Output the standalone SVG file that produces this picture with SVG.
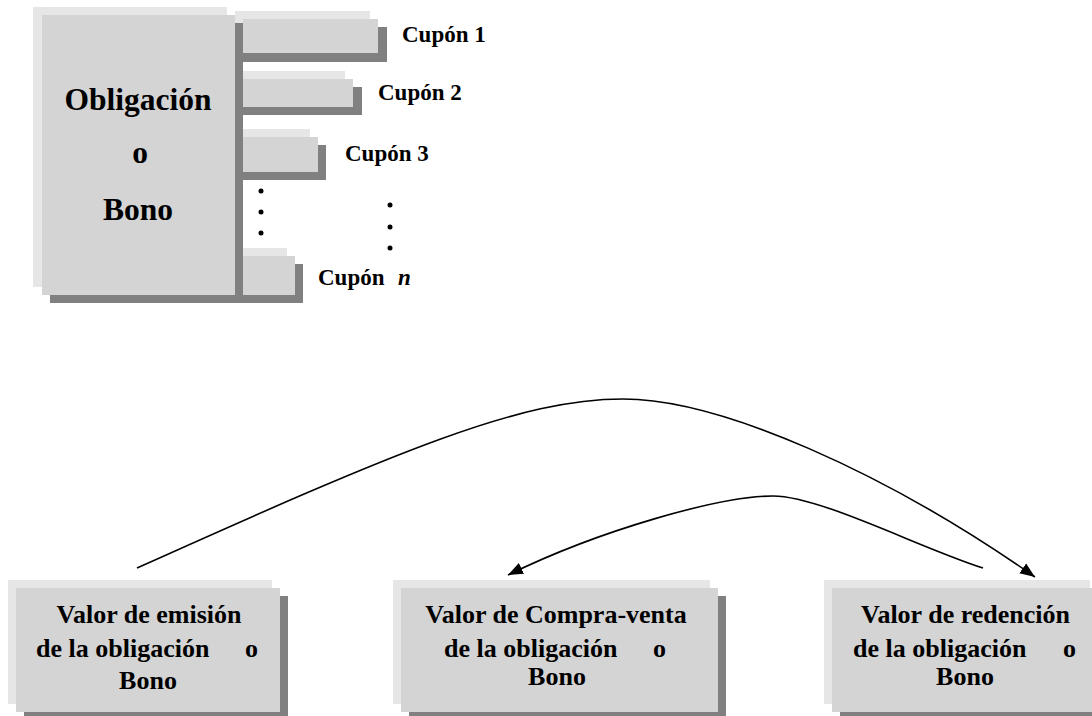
<svg xmlns="http://www.w3.org/2000/svg" width="1092" height="716" viewBox="0 0 1092 716">
<style>
.lt{fill:#e6e6e6}
.fr{fill:#d4d4d4}
.sh{fill:#808080}
.t{font-family:"Liberation Serif","Times New Roman",serif;font-weight:bold;fill:#000}
.big{font-size:31.5px}
.cup{font-size:23px}
.box{font-size:26px}
.con{fill:none;stroke:#000;stroke-width:1.6}
</style>
<defs>
<marker id="ah" markerUnits="userSpaceOnUse" markerWidth="18" markerHeight="14" refX="15" refY="7" orient="auto">
<path d="M0,1 L15,7 L0,13 Z" fill="#000"/>
</marker>
</defs>
<rect width="1092" height="716" fill="#fff"/>
<g id="cupon1">
<rect class="lt" x="235" y="11" width="135" height="34"/>
<rect class="sh" x="235" y="27" width="152" height="35"/>
<rect class="fr" x="243" y="19" width="135" height="34"/>
<text class="t cup" x="402" y="42">Cupón 1</text>
</g>
<g id="cupon2">
<rect class="lt" x="235" y="71" width="110" height="28"/>
<rect class="sh" x="235" y="87" width="127" height="28"/>
<rect class="fr" x="243" y="79" width="110" height="28"/>
<text class="t cup" x="378" y="100">Cupón 2</text>
</g>
<g id="cupon3">
<rect class="lt" x="235" y="129" width="75" height="35"/>
<rect class="sh" x="235" y="145" width="91" height="35"/>
<rect class="fr" x="243" y="137" width="75" height="35"/>
<text class="t cup" x="345" y="161">Cupón 3</text>
</g>
<g id="cuponn">
<rect class="lt" x="235" y="248" width="52" height="39"/>
<rect class="sh" x="235" y="264" width="68" height="39"/>
<rect class="fr" x="243" y="256" width="52" height="39"/>
<text class="t cup" x="318" y="285">Cupón <tspan x="398" font-style="italic">n</tspan></text>
</g>
<g id="obligacion">
<rect class="sh" x="50" y="23" width="193" height="280"/>
<rect class="lt" x="33" y="7" width="194" height="280"/>
<rect class="fr" x="42" y="15" width="193" height="280"/>
<text class="t big" x="138" y="110" text-anchor="middle">Obligación</text>
<text class="t big" x="140" y="163" text-anchor="middle">o</text>
<text class="t big" x="138" y="220" text-anchor="middle">Bono</text>
</g>
<g id="dots" fill="#000">
<circle cx="261" cy="191" r="2.5"/>
<circle cx="261" cy="212" r="2.5"/>
<circle cx="261" cy="233" r="2.5"/>
<circle cx="390" cy="205" r="2.5"/>
<circle cx="390" cy="227" r="2.5"/>
<circle cx="390" cy="248" r="2.5"/>
</g>
<g id="emision">
<rect class="sh" x="24" y="596" width="264" height="124"/>
<rect class="lt" x="8" y="580" width="264" height="124"/>
<rect class="fr" x="16" y="588" width="264" height="124"/>
<text class="t box" x="149" y="623" text-anchor="middle">Valor de emisión</text>
<text class="t box" y="657"><tspan x="36">de la obligación</tspan><tspan x="245">o</tspan></text>
<text class="t box" x="148" y="689" text-anchor="middle">Bono</text>
</g>
<g id="compraventa">
<rect class="sh" x="409" y="596" width="317" height="124"/>
<rect class="lt" x="393" y="580" width="317" height="124"/>
<rect class="fr" x="401" y="588" width="317" height="124"/>
<text class="t box" x="556" y="623" text-anchor="middle">Valor de Compra-venta</text>
<text class="t box" y="657"><tspan x="444">de la obligación</tspan><tspan x="653">o</tspan></text>
<text class="t box" x="557" y="685" text-anchor="middle">Bono</text>
</g>
<g id="redencion">
<rect class="sh" x="840" y="596" width="266" height="124"/>
<rect class="lt" x="824" y="580" width="266" height="124"/>
<rect class="fr" x="832" y="588" width="266" height="124"/>
<text class="t box" x="965.5" y="623" text-anchor="middle">Valor de redención</text>
<text class="t box" y="657"><tspan x="853">de la obligación</tspan><tspan x="1063">o</tspan></text>
<text class="t box" x="965" y="685" text-anchor="middle">Bono</text>
</g>
<g id="connectors">
<path class="con" d="M137,568 C400,450 520,399 623,399 C720,399 885,472 1035,577" marker-end="url(#ah)"/>
<path class="con" d="M983,568 C920,548 820,496 773,496 C720,496 600,530 508,575" marker-end="url(#ah)"/>
</g>
</svg>
